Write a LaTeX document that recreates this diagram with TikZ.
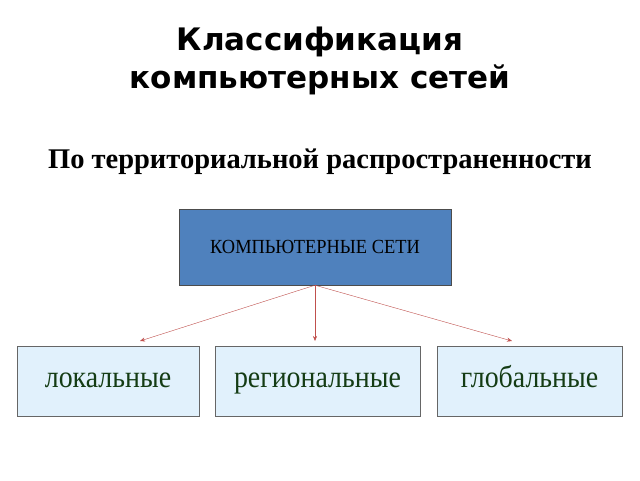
\documentclass[tikz,border=0pt]{standalone}
\usepackage{fontspec}
\setmainfont{Liberation Serif}
\newfontfamily\titlefont{DejaVu Sans}
\usetikzlibrary{arrows.meta}
\begin{document}
\begin{tikzpicture}[x=1pt,y=-1pt,
  topbox/.style={draw=black!70,fill={rgb,255:red,79;green,129;blue,189},minimum width=272pt,minimum height=76pt,inner sep=0pt,font=\fontsize{20}{22}\selectfont},
  leaf/.style={draw=black!60,fill={rgb,255:red,225;green,241;blue,252},minimum height=70pt,inner sep=0pt,text height=20pt,text depth=7pt,font=\fontsize{31}{34}\selectfont,text={rgb,255:red,20;green,60;blue,20}},
  arr/.style={draw={rgb,255:red,192;green,80;blue,77},-{Stealth[length=5pt,width=4pt]}}]
\useasboundingbox (0,0) rectangle (640,480);
\fill[white] (0,0) rectangle (640,480);
\node[font=\titlefont\bfseries\fontsize{31}{38}\selectfont,align=center] (t) at (320,61) {Классификация\\компьютерных сетей};
\node[font=\bfseries\fontsize{28.5}{32}\selectfont] (s) at (320,162) {По территориальной распространенности};
\node[topbox] (top) at (315,247) {\scalebox{0.92}[1]{КОМПЬЮТЕРНЫЕ СЕТИ}};
\node[leaf,minimum width=182pt] (a) at (108,381) {\scalebox{0.9}[1]{локальные}};
\node[leaf,minimum width=205pt] (b) at (317.5,381) {\scalebox{0.9}[1]{региональные}};
\node[leaf,minimum width=185pt] (c) at (529.5,381) {\scalebox{0.9}[1]{глобальные}};
\coordinate (ea) at (140,341);
\coordinate (eb) at (315,341);
\coordinate (ec) at (512,341);
\draw[arr] (top.south) -- (ea);
\draw[arr] (top.south) -- (eb);
\draw[arr] (top.south) -- (ec);
\end{tikzpicture}
\end{document}
